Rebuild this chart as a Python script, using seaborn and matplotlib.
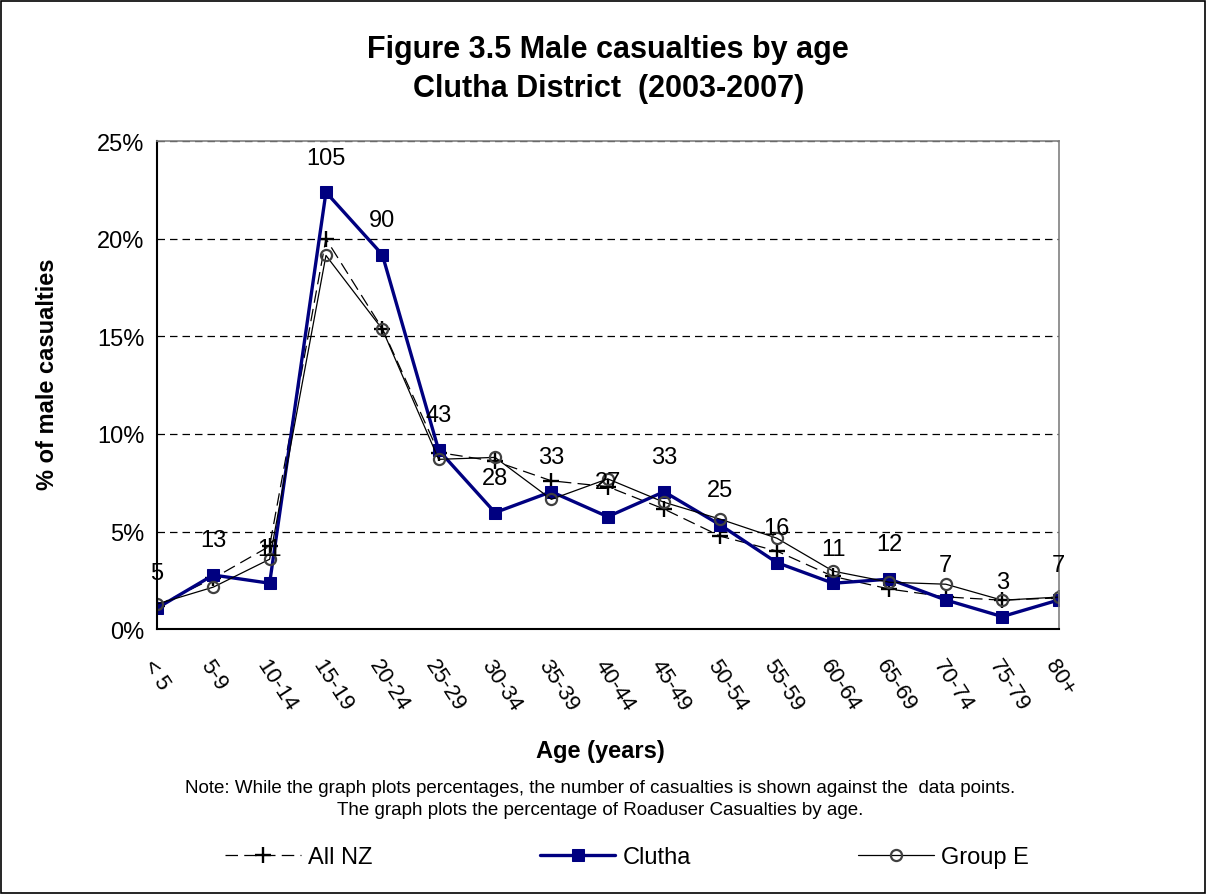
import matplotlib
matplotlib.use("Agg")
import matplotlib.pyplot as plt
import matplotlib.patches as mpatches
from matplotlib.transforms import ScaledTranslation
import seaborn as sns
import pandas as pd

# age bands and series (% of male casualties)
ages = ["< 5", "5-9", "10-14", "15-19", "20-24", "25-29", "30-34", "35-39", "40-44",
        "45-49", "50-54", "55-59", "60-64", "65-69", "70-74", "75-79", "80+"]
clutha = [1.07, 2.77, 2.35, 22.39, 19.19, 9.17, 5.97, 7.04, 5.76, 7.04, 5.33, 3.41,
          2.35, 2.56, 1.49, 0.64, 1.49]
all_nz = [1.2, 2.6, 4.25, 20.0, 15.4, 9.05, 8.6, 7.6, 7.3, 6.15, 4.76, 4.0, 2.7,
          2.05, 1.65, 1.48, 1.6]
group_e = [1.28, 2.15, 3.58, 19.15, 15.37, 8.7, 8.8, 6.65, 7.7, 6.5, 5.63, 4.66,
           2.97, 2.4, 2.3, 1.48, 1.64]
counts = [5, 13, 11, 105, 90, 43, 28, 33, 27, 33, 25, 16, 11, 12, 7, 3, 7]

df = pd.DataFrame({"pos": range(len(ages)), "age": ages, "All NZ": all_nz,
                   "Clutha": clutha, "Group E": group_e})

sns.set_style("white")
plt.rcParams["font.family"] = ["Liberation Sans", "DejaVu Sans"]
plt.rcParams["text.color"] = "black"
plt.rcParams["axes.labelcolor"] = "black"
plt.rcParams["xtick.color"] = "black"
plt.rcParams["ytick.color"] = "black"

fig = plt.figure(figsize=(12.07, 8.95), dpi=100)
ax = fig.add_axes([0.130, 0.296, 0.747, 0.545])

sns.lineplot(data=df, x="pos", y="All NZ", ax=ax, color="black", lw=0.9,
             linestyle=(0, (10, 5)), marker="+", markersize=12,
             markeredgecolor="black", markeredgewidth=1.7, label="All NZ")
sns.lineplot(data=df, x="pos", y="Clutha", ax=ax, color="#000080", lw=2.4,
             marker="s", markersize=9, markeredgecolor="#000080", label="Clutha")
sns.lineplot(data=df, x="pos", y="Group E", ax=ax, color="black", lw=0.9,
             marker="o", markersize=8, markerfacecolor="none",
             markeredgecolor="#404040", markeredgewidth=1.6, label="Group E")

for i, (v, c) in enumerate(zip(clutha, counts)):
    ax.annotate(str(c), (i, v), xytext=(0, 25), textcoords="offset points",
                ha="center", va="center", fontsize=17, color="black")

ax.set_xlim(0, len(ages) - 1)
ax.set_ylim(0, 25)
ax.set_yticks([0, 5, 10, 15, 20, 25])
ax.set_yticklabels([f"{t}%" for t in [0, 5, 10, 15, 20, 25]], fontsize=17)
ax.set_xticks(range(len(ages)))
ax.set_xticklabels(ages, rotation=-57, ha="left", va="top", rotation_mode="anchor",
                   fontsize=16)
shift = ScaledTranslation(9 / 72, 0, fig.dpi_scale_trans)
for lab in ax.get_xticklabels():
    lab.set_transform(lab.get_transform() + shift)
ax.tick_params(axis="x", direction="out", length=5, pad=14)
ax.tick_params(axis="y", direction="out", length=5, pad=4)
ax.yaxis.grid(True, linestyle=(0, (6, 4)), color="black", lw=0.9)
ax.set_axisbelow(True)

for s in ["left", "bottom"]:
    ax.spines[s].set_color("black")
    ax.spines[s].set_linewidth(1.5)
for s in ["top", "right"]:
    ax.spines[s].set_color("#808080")
    ax.spines[s].set_linewidth(1.2)

ax.set_xlabel("")
ax.set_ylabel("")
fig.text(0.497, 0.160, "Age (years)", ha="center", va="center", fontsize=17,
         fontweight="bold")
fig.text(0.039, 0.582, "% of male casualties", ha="center", va="center", fontsize=17,
         fontweight="bold", rotation=90)

fig.text(0.504, 0.944, "Figure 3.5 Male casualties by age", ha="center", va="center",
         fontsize=22, fontweight="bold")
fig.text(0.504, 0.901, "Clutha District  (2003-2007)", ha="center", va="center",
         fontsize=22, fontweight="bold")
fig.text(0.497, 0.119, "Note: While the graph plots percentages, the number of casualties is "
         "shown against the  data points.", ha="center", va="center", fontsize=13.5)
fig.text(0.497, 0.094, "The graph plots the percentage of Roaduser Casualties by age.",
         ha="center", va="center", fontsize=13.5)

ax.get_legend().remove()
handles, labels = ax.get_legend_handles_labels()
fig.legend(handles, labels, loc="center", bbox_to_anchor=(0.5195, 0.041), ncol=3,
           frameon=False, fontsize=17, handlelength=3.2, columnspacing=7.1,
           handletextpad=0.3)

fig.patches.append(mpatches.Rectangle((0.001, 0.001), 0.997, 0.997, fill=False,
                                      edgecolor="black", lw=1.2,
                                      transform=fig.transFigure, figure=fig))

fig.savefig("out.png", dpi=100)
